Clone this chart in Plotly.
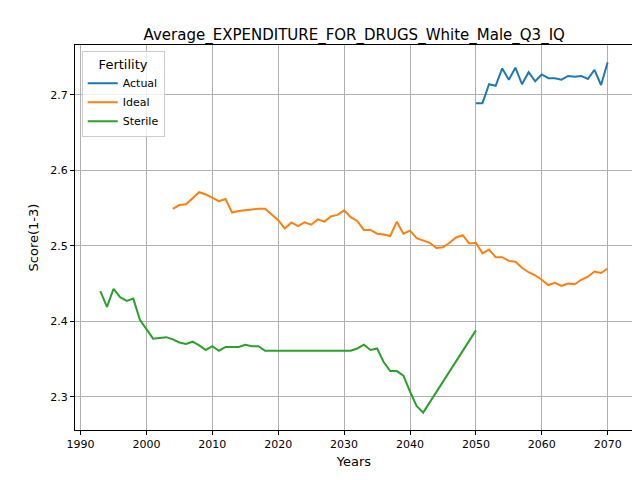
import plotly.graph_objects as go

actual_years = list(range(2050, 2071))
actual = [2.689, 2.689, 2.714, 2.712, 2.735, 2.720, 2.736, 2.714, 2.730, 2.718, 2.727,
          2.722, 2.722, 2.720, 2.725, 2.724, 2.725, 2.721, 2.733, 2.713, 2.743]

ideal_years = list(range(2004, 2071))
ideal = [2.549, 2.554, 2.555, 2.563, 2.571, 2.568, 2.564, 2.559, 2.562, 2.544,
         2.546, 2.547, 2.548, 2.549, 2.549, 2.541, 2.534, 2.523, 2.531, 2.526,
         2.531, 2.528, 2.535, 2.532, 2.539, 2.541, 2.547, 2.538, 2.533, 2.521,
         2.521, 2.516, 2.515, 2.513, 2.532, 2.516, 2.520, 2.510, 2.507, 2.504,
         2.497, 2.498, 2.504, 2.511, 2.514, 2.503, 2.504, 2.490, 2.495, 2.485,
         2.485, 2.480, 2.479, 2.471, 2.465, 2.461, 2.455, 2.448, 2.451, 2.447,
         2.450, 2.449, 2.455, 2.459, 2.466, 2.464, 2.470]

sterile_years = list(range(1993, 2043)) + [2050]
sterile = [2.440, 2.419, 2.443, 2.432, 2.427, 2.430, 2.402, 2.390, 2.377, 2.378,
           2.379, 2.376, 2.372, 2.370, 2.373, 2.368, 2.362, 2.367, 2.361, 2.366,
           2.366, 2.366, 2.369, 2.367, 2.367, 2.361, 2.361, 2.361, 2.361, 2.361,
           2.361, 2.361, 2.361, 2.361, 2.361, 2.361, 2.361, 2.361, 2.361, 2.364,
           2.369, 2.362, 2.364, 2.346, 2.334, 2.334, 2.328, 2.307, 2.288, 2.279,
           2.388]

fig = go.Figure()
fig.add_trace(go.Scatter(x=actual_years, y=actual, mode="lines", name="Actual",
                         line=dict(color="#1f77b4", width=2)))
fig.add_trace(go.Scatter(x=ideal_years, y=ideal, mode="lines", name="Ideal",
                         line=dict(color="#ff7f0e", width=2)))
fig.add_trace(go.Scatter(x=sterile_years, y=sterile, mode="lines", name="Sterile",
                         line=dict(color="#2ca02c", width=2)))

axis = dict(showgrid=True, gridcolor="#b0b0b0", gridwidth=1, showline=True,
            linecolor="black", mirror=True, ticks="outside", ticklen=4,
            tickcolor="black", zeroline=False, automargin=False)
fig.update_layout(
    width=640, height=480,
    paper_bgcolor="white", plot_bgcolor="white",
    font=dict(family="DejaVu Sans", size=11, color="black"),
    margin=dict(l=67, r=15, t=37, b=58),
    title=dict(text="Average_EXPENDITURE_FOR_DRUGS_White_Male_Q3_IQ",
               x=0.541, xanchor="center", y=0.955, font=dict(size=15)),
    xaxis=dict(axis, range=[1989.15, 2073.85], tickvals=list(range(1990, 2071, 10)),
               title=dict(text="Years", standoff=6)),
    yaxis=dict(axis, range=[2.256, 2.766], tickvals=[2.3, 2.4, 2.5, 2.6, 2.7],
               tickformat=".1f", title=dict(text="Score(1-3)", standoff=8)),
    legend=dict(title=dict(text="Fertility", side="top center"), x=0.012, y=0.985,
                xanchor="left", yanchor="top", bordercolor="#cccccc", borderwidth=1,
                bgcolor="rgba(255,255,255,0.8)"),
)
fig.write_html("out.html")
